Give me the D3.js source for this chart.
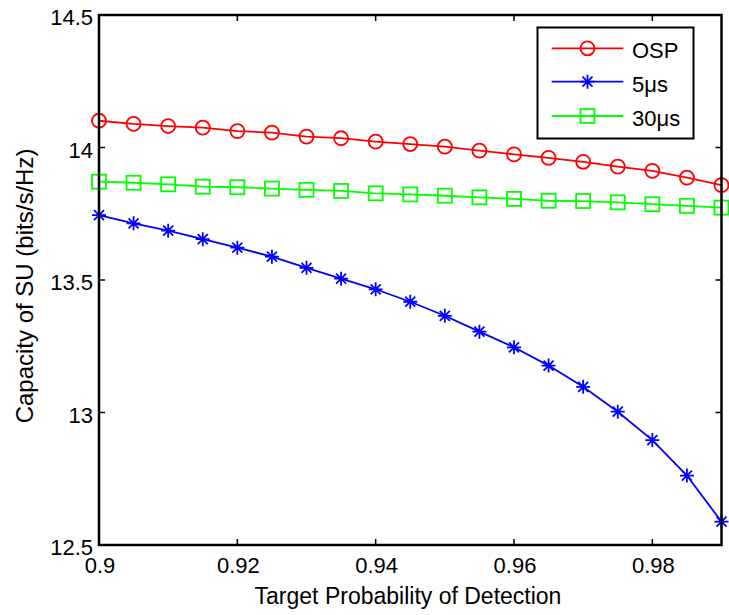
<!DOCTYPE html>
<html>
<head>
<meta charset="utf-8">
<script src="https://cdn.jsdelivr.net/npm/d3@7"></script>
<style>
  html, body { margin: 0; padding: 0; background: #fff; }
  svg { display: block; font-family: Arial, "Liberation Sans", Helvetica, sans-serif; }
</style>
</head>
<body>
<script>
// Target probability of detection (x values)
const pd = [0.9, 0.905, 0.91, 0.915, 0.92, 0.925, 0.93, 0.935, 0.94, 0.945,
            0.95, 0.955, 0.96, 0.965, 0.97, 0.975, 0.98, 0.985, 0.99];
// Capacity of SU (bits/s/Hz) per scheme
const osp = [14.101, 14.089, 14.081, 14.075, 14.062, 14.056, 14.041, 14.035, 14.022, 14.013,
             14.003, 13.988, 13.974, 13.961, 13.946, 13.928, 13.912, 13.886, 13.858];
const us5 = [13.745, 13.714, 13.686, 13.654, 13.622, 13.588, 13.546, 13.505, 13.465, 13.418,
             13.365, 13.305, 13.246, 13.177, 13.097, 13.003, 12.896, 12.762, 12.588];
const us30 = [13.871, 13.867, 13.861, 13.852, 13.850, 13.845, 13.840, 13.836, 13.827, 13.823,
              13.818, 13.812, 13.806, 13.799, 13.798, 13.793, 13.786, 13.780, 13.773];
const seriesNames = ["OSP", "5\u03bcs", "30\u03bcs"];
const xTicks = [0.9, 0.92, 0.94, 0.96, 0.98];
const yTicks = [12.5, 13, 13.5, 14, 14.5];

const W = 729, H = 615;
const L = 99, R = 721.5, T = 15, B = 545;

const svg = d3.select("body").append("svg").attr("width", W).attr("height", H);

const x = d3.scaleLinear().domain([0.9, 0.99]).range([L, R]);
const y = d3.scaleLinear().domain([12.5, 14.5]).range([B, T]);

const series = [
  { name: seriesNames[0], values: osp, color: "#ff0000", marker: "circle" },
  { name: seriesNames[1], values: us5, color: "#0000ff", marker: "star" },
  { name: seriesNames[2], values: us30, color: "#00ff00", marker: "square" }
];

function drawMarker(g, type, cx, cy, color) {
  if (type === "circle") {
    g.append("circle").attr("cx", cx).attr("cy", cy).attr("r", 7)
      .attr("fill", "none").attr("stroke", color).attr("stroke-width", 1.8);
  } else if (type === "square") {
    g.append("rect").attr("x", cx - 7).attr("y", cy - 7).attr("width", 14).attr("height", 14)
      .attr("fill", "none").attr("stroke", color).attr("stroke-width", 1.8);
  } else {
    const a = 7, d = 5;
    const p = `M${cx - a},${cy}L${cx + a},${cy}M${cx},${cy - a}L${cx},${cy + a}` +
              `M${cx - d},${cy - d}L${cx + d},${cy + d}M${cx - d},${cy + d}L${cx + d},${cy - d}`;
    g.append("path").attr("d", p).attr("fill", "none").attr("stroke", color).attr("stroke-width", 1.8);
  }
}

// Data lines and markers
const line = d3.line().x((d, i) => x(pd[i])).y(d => y(d));
series.forEach(s => {
  const g = svg.append("g");
  g.append("path").datum(s.values).attr("d", line)
    .attr("fill", "none").attr("stroke", s.color).attr("stroke-width", 1.8);
  s.values.forEach((v, i) => drawMarker(g, s.marker, x(pd[i]), y(v), s.color));
});

// Axes box with inward ticks on all four sides
const tickLen = 6;
const axisG = svg.append("g").attr("stroke", "#000").attr("stroke-width", 2.5).attr("fill", "none");
axisG.append("rect").attr("x", L).attr("y", T).attr("width", R - L).attr("height", B - T);
const tickG = svg.append("g").attr("stroke", "#000").attr("stroke-width", 1.5);
xTicks.forEach(t => {
  tickG.append("line").attr("x1", x(t)).attr("x2", x(t)).attr("y1", B).attr("y2", B - tickLen);
  tickG.append("line").attr("x1", x(t)).attr("x2", x(t)).attr("y1", T).attr("y2", T + tickLen);
});
yTicks.forEach(t => {
  tickG.append("line").attr("x1", L).attr("x2", L + tickLen).attr("y1", y(t)).attr("y2", y(t));
  tickG.append("line").attr("x1", R).attr("x2", R - tickLen).attr("y1", y(t)).attr("y2", y(t));
});

// Tick labels
const fs = 22;
svg.append("g").selectAll("text").data(xTicks).join("text")
  .attr("x", d => x(d) + 1).attr("y", 573).attr("text-anchor", "middle")
  .attr("font-size", fs).attr("fill", "#000").text(d => d3.format("")(d));
svg.append("g").selectAll("text").data(yTicks).join("text")
  .attr("x", 93).attr("y", d => y(d) + 10).attr("text-anchor", "end")
  .attr("font-size", fs).attr("fill", "#000").text(d => d3.format("")(d));

// Axis titles
svg.append("text").attr("x", 408).attr("y", 604).attr("text-anchor", "middle")
  .attr("font-size", 23).attr("fill", "#000").text("Target Probability of Detection");
svg.append("text").attr("transform", "translate(33,286) rotate(-90)")
  .attr("text-anchor", "middle").attr("font-size", 24).attr("fill", "#000")
  .text("Capacity of SU (bits/s/Hz)");

// Legend
const lg = svg.append("g");
lg.append("rect").attr("x", 537.5).attr("y", 27.5).attr("width", 156).attr("height", 111)
  .attr("fill", "#fff").attr("stroke", "#000").attr("stroke-width", 2);
const legY = [48.3, 81.7, 116];
series.forEach((s, i) => {
  const ly = legY[i];
  lg.append("line").attr("x1", 551.7).attr("x2", 623.3).attr("y1", ly).attr("y2", ly)
    .attr("stroke", s.color).attr("stroke-width", 1.8);
  drawMarker(lg, s.marker, 587.5, ly, s.color);
  lg.append("text").attr("x", 632).attr("y", ly + 10).attr("font-size", fs).attr("fill", "#000").text(s.name);
});
</script>
</body>
</html>
